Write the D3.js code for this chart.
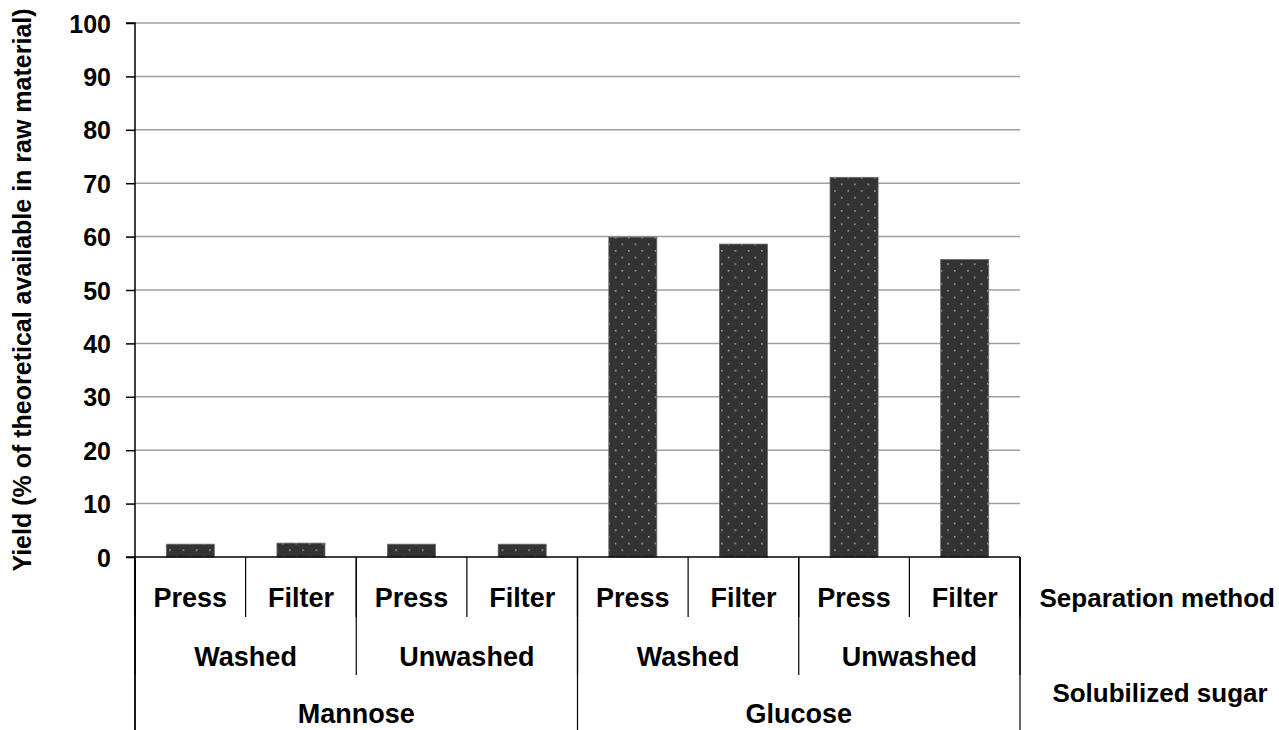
<!DOCTYPE html>
<html>
<head>
<meta charset="utf-8">
<script src="https://cdn.jsdelivr.net/npm/d3@7"></script>
<style>
    body { margin: 0; background: #fff; }
    svg text { font-family: "Liberation Sans", Arial, sans-serif; font-weight: bold; fill: #000; }
</style>
</head>
<body>
<div id="chart"></div>
<script>
// chart data
const sugars = ["Mannose", "Glucose"];
const washing = ["Washed", "Unwashed"];
const methods = ["Press", "Filter"];
const yields = [2.4, 2.6, 2.4, 2.4, 59.9, 58.6, 71.1, 55.7];
const yTicks = [0, 10, 20, 30, 40, 50, 60, 70, 80, 90, 100];

// set the basic dimensions
const width = 1279;
const height = 730;
const margin = { top: 23, left: 135, right: 259, bottom: 173 };
const plotW = width - margin.left - margin.right;
const plotH = height - margin.top - margin.bottom;

// one row per bar, built from the arrays above
const rows = [];
sugars.forEach(s => washing.forEach(w => methods.forEach(m => {
    rows.push({ sugar: s, wash: w, method: m, key: s + '|' + w + '|' + m, value: yields[rows.length] });
})));

const svg = d3.select('#chart')
    .append('svg')
    .attr('width', width)
    .attr('height', height);

// dotted fill for the bars
const pat = svg.append('defs').append('pattern')
    .attr('id', 'dots')
    .attr('patternUnits', 'userSpaceOnUse')
    .attr('width', 13.3)
    .attr('height', 13.3);
pat.append('rect').attr('width', 13.3).attr('height', 13.3).attr('fill', '#333');
pat.append('rect').attr('x', 1).attr('y', 1).attr('width', 1.5).attr('height', 1.5).attr('fill', '#b0b0b0');
pat.append('rect').attr('x', 7.65).attr('y', 7.65).attr('width', 1.5).attr('height', 1.5).attr('fill', '#b0b0b0');

const g = svg.append('g')
    .attr('transform', `translate(${margin.left}, ${margin.top})`);

const x = d3.scaleBand()
    .domain(rows.map(d => d.key))
    .range([0, plotW])
    .paddingInner(0.566)
    .paddingOuter(0.283);

const y = d3.scaleLinear()
    .domain([0, 100])
    .range([plotH, 0]);

// gridlines
g.append('g')
    .selectAll('line')
    .data(yTicks.filter(t => t > 0))
    .enter()
    .append('line')
    .attr('x1', 0)
    .attr('x2', plotW)
    .attr('y1', d => y(d))
    .attr('y2', d => y(d))
    .attr('stroke', '#a0a0a0')
    .attr('stroke-width', 1.5);

// bars
g.append('g')
    .selectAll('rect')
    .data(rows)
    .enter()
    .append('rect')
    .attr('x', d => x(d.key))
    .attr('y', d => y(d.value))
    .attr('width', x.bandwidth())
    .attr('height', d => y(0) - y(d.value))
    .attr('fill', 'url(#dots)')
    .attr('stroke', '#666')
    .attr('stroke-width', 0.8);

// y axis
const yAxis = g.append('g')
    .call(d3.axisLeft(y).tickValues(yTicks).tickSize(9).tickPadding(15));
yAxis.select('.domain').attr('stroke', '#000').attr('stroke-width', 1.5)
    .attr('d', `M-9,0H0V${height - margin.top}`);
yAxis.selectAll('.tick line').attr('stroke', '#000').attr('stroke-width', 1.5);
yAxis.selectAll('.tick text')
    .style('font-size', '25px')
    .attr('dy', '0.36em');

// x axis line
g.append('line')
    .attr('x1', -9).attr('x2', plotW)
    .attr('y1', plotH).attr('y2', plotH)
    .attr('stroke', '#000').attr('stroke-width', 1.5);

// multi-level category labels
const step = x.step();
const slotLeft = i => i * step;
const levels = [
    { names: methods, span: 1, depth: 60, labelY: 50 },
    { names: washing, span: 2, depth: 118, labelY: 109 },
    { names: sugars, span: 4, depth: height - margin.top - plotH, labelY: 166 }
];

levels.forEach(lv => {
    const n = rows.length / lv.span;
    const lg = g.append('g').attr('transform', `translate(0, ${plotH})`);
    const groups = d3.range(n).map(i => ({ i: i, label: lv.names[i % lv.names.length] }));
    lg.selectAll('text')
        .data(groups)
        .enter()
        .append('text')
        .attr('x', d => slotLeft(d.i * lv.span) + step * lv.span / 2)
        .attr('y', lv.labelY)
        .attr('text-anchor', 'middle')
        .style('font-size', '27px')
        .text(d => d.label);
    lg.selectAll('line')
        .data(d3.range(n + 1))
        .enter()
        .append('line')
        .attr('x1', i => slotLeft(i * lv.span))
        .attr('x2', i => slotLeft(i * lv.span))
        .attr('y1', 0)
        .attr('y2', lv.depth)
        .attr('stroke', '#000')
        .attr('stroke-width', 1.2);
});

// level names on the right
svg.append('text')
    .attr('x', 1275)
    .attr('y', margin.top + plotH + 50)
    .attr('text-anchor', 'end')
    .style('font-size', '26px')
    .text('Separation method');
svg.append('text')
    .attr('x', 1160)
    .attr('y', margin.top + plotH + 145)
    .attr('text-anchor', 'middle')
    .style('font-size', '26px')
    .text('Solubilized sugar');

// y axis title
svg.append('text')
    .attr('transform', `translate(31, ${margin.top + plotH / 2}) rotate(-90)`)
    .attr('text-anchor', 'middle')
    .style('font-size', '25px')
    .text('Yield (% of theoretical available in raw material)');
</script>
</body>
</html>
